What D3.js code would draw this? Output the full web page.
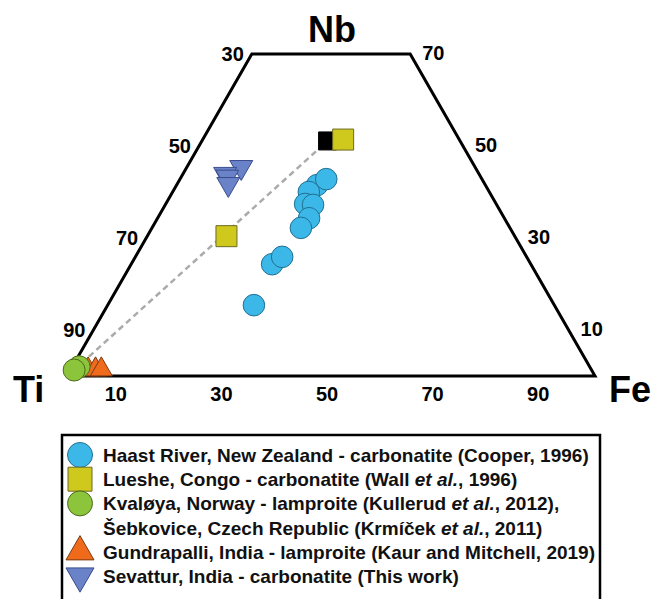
<!DOCTYPE html>
<html>
<head>
<meta charset="utf-8">
<script src="https://cdn.jsdelivr.net/npm/d3@7"></script>
<style>
  html, body { margin: 0; padding: 0; background: #ffffff; }
  svg { display: block; }
</style>
</head>
<body>
<svg id="chart" width="652" height="599"></svg>
<script>
// Ti–Nb–Fe ternary (atomic %), truncated at Nb = 70. Ti is the remainder.
const haastNb = [41.5, 42.8, 40.0, 37.4, 37.2, 34.3, 32.2, 24.3, 25.9, 15.4];
const haastFe = [26.6, 27.7, 25.8, 26.4, 28.0, 28.7, 28.2, 26.7, 27.8, 27.7];

const luesheNb = [51.4, 30.4];
const luesheFe = [26.6, 15.0];

const blackNb = [51.1];
const blackFe = [23.8];

const kvaloyaNb = [2.0, 1.3];
const kvaloyaFe = [1.3, 0.7];

const gundraNb = [1.4, 1.4, 1.4];
const gundraFe = [3.3, 4.7, 5.8];

const sevatturNb = [45.4, 43.9, 43.3, 41.7];
const sevatturFe = [10.3, 8.0, 8.7, 9.7];

// mixing line: Kvaløya end member to the black Lueshe point
const mixNb = [1.3, 51.1];
const mixFe = [0.7, 23.8];

const nbMax = 70;
const sideTicks = [10, 30, 50, 70];          // Nb values on the two sloping edges
const leftTickLabels = ["90", "70", "50", "30"];   // Ti %
const rightTickLabels = ["10", "30", "50", "70"];  // Nb %
const bottomTicks = [10, 30, 50, 70, 90];    // Fe %

const legendItems = [
  { shape: "circle", fill: "#3cb8e8", stroke: "#216f92",
    lines: [[["Haast River, New Zealand - carbonatite (Cooper, 1996)", false]]] },
  { shape: "square", fill: "#cfc91e", stroke: "#6d6a22",
    lines: [[["Lueshe, Congo - carbonatite (Wall ", false], ["et al.", true], [", 1996)", false]]] },
  { shape: "circle", fill: "#8cc43c", stroke: "#4b6a1c",
    lines: [[["Kvaløya, Norway - lamproite (Kullerud ", false], ["et al.", true], [", 2012),", false]],
            [["Šebkovice, Czech Republic (Krmíček ", false], ["et al.", true], [", 2011)", false]]] },
  { shape: "up", fill: "#f06a1c", stroke: "#7a3a12",
    lines: [[["Gundrapalli, India - lamproite (Kaur and Mitchell, 2019)", false]]] },
  { shape: "down", fill: "#6a82c8", stroke: "#3a4d8c",
    lines: [[["Sevattur, India - carbonatite (This work)", false]]] }
];

const svg = d3.select("#chart");

// base position (Fe + Nb/2) -> x, Nb -> y
const xScale = d3.scaleLinear().domain([0, 100]).range([67, 595]);
const yScale = d3.scaleLinear().domain([0, 100]).range([376, -84]);
const proj = (nb, fe) => [xScale(fe + nb / 2), yScale(nb)];

const font = "'Liberation Sans', Arial, Helvetica, sans-serif";

// frame
const frame = [proj(0, 0), proj(nbMax, 0), proj(nbMax, 100 - nbMax), proj(0, 100), proj(0, 0)];
svg.append("path")
  .attr("d", d3.line()(frame))
  .attr("fill", "none")
  .attr("stroke", "#000")
  .attr("stroke-width", 3)
  .attr("stroke-linejoin", "miter");

// corner labels
svg.append("text").attr("x", (xScale(35) + xScale(65)) / 2 + 1).attr("y", 42)
  .attr("text-anchor", "middle").attr("font-family", font).attr("font-weight", "bold")
  .attr("font-size", 36).text("Nb");
svg.append("text").attr("x", xScale(0) - 54).attr("y", 402)
  .attr("font-family", font).attr("font-weight", "bold").attr("font-size", 36).text("Ti");
svg.append("text").attr("x", xScale(100) + 14).attr("y", 402)
  .attr("font-family", font).attr("font-weight", "bold").attr("font-size", 36).text("Fe");

// tick labels
const tickG = svg.append("g").attr("font-family", font).attr("font-weight", "bold").attr("font-size", 20);
sideTicks.forEach((nb, i) => {
  const [lx, ly] = proj(nb, 0);
  tickG.append("text").attr("x", lx - 8).attr("y", ly + 7).attr("text-anchor", "end").text(leftTickLabels[i]);
  const [rx, ry] = proj(nb, 100 - nb);
  tickG.append("text").attr("x", rx + 12).attr("y", ry + 6).attr("text-anchor", "start").text(rightTickLabels[i]);
});
bottomTicks.forEach(fe => {
  tickG.append("text").attr("x", xScale(fe) - 4).attr("y", 401).attr("text-anchor", "middle").text(String(fe));
});

// mixing line
svg.append("path")
  .attr("d", d3.line()(mixNb.map((nb, i) => proj(nb, mixFe[i]))))
  .attr("fill", "none")
  .attr("stroke", "#ababab")
  .attr("stroke-width", 2.5)
  .attr("stroke-dasharray", "6,4");

const symCircle = r => d3.symbol().type(d3.symbolCircle).size(Math.PI * r * r)();
const symSquare = s => d3.symbol().type(d3.symbolSquare).size(s * s)();
const symTri = w => d3.symbol().type(d3.symbolTriangle).size(w * w * Math.sqrt(3) / 4)();

function plot(nbs, fes, path, fill, stroke, rot) {
  svg.append("g").selectAll("path")
    .data(nbs.map((nb, i) => proj(nb, fes[i])))
    .join("path")
    .attr("d", path)
    .attr("transform", d => `translate(${d[0]},${d[1]})${rot ? " rotate(180)" : ""}`)
    .attr("fill", fill)
    .attr("stroke", stroke)
    .attr("stroke-width", 1);
}

plot(blackNb, blackFe, symSquare(18), "#000000", "#000000", false);
plot(luesheNb, luesheFe, symSquare(21), "#cfc91e", "#6d6a22", false);
plot(sevatturNb, sevatturFe, symTri(23), "#6a82c8", "#3a4d8c", true);
plot(haastNb, haastFe, symCircle(10.8), "#3cb8e8", "#216f92", false);
plot(gundraNb, gundraFe, symTri(22), "#f06a1c", "#7a3a12", false);
plot(kvaloyaNb, kvaloyaFe, symCircle(11), "#8cc43c", "#4b6a1c", false);

// legend
const lg = svg.append("g");
lg.append("rect").attr("x", 62).attr("y", 435).attr("width", 538).attr("height", 180)
  .attr("fill", "#fff").attr("stroke", "#000").attr("stroke-width", 2.5);

const rowStep = 24.2;
let row = 0;
legendItems.forEach(item => {
  const cy = 455 + row * rowStep;
  let d, rot = false;
  if (item.shape === "circle") d = symCircle(12.5);
  else if (item.shape === "square") d = symSquare(24);
  else { d = symTri(28); rot = item.shape === "down"; }
  lg.append("path").attr("d", d)
    .attr("transform", `translate(80,${cy})${rot ? " rotate(180)" : ""}`)
    .attr("fill", item.fill).attr("stroke", item.stroke).attr("stroke-width", 1);
  item.lines.forEach((segs, j) => {
    const t = lg.append("text").attr("x", 103).attr("y", 455 + (row + j) * rowStep + 7)
      .attr("font-family", font).attr("font-size", 19).attr("font-weight", "bold").attr("fill", "#111");
    segs.forEach(([s, it]) => t.append("tspan").attr("font-style", it ? "italic" : "normal").text(s));
  });
  row += item.lines.length;
});
</script>
</body>
</html>
